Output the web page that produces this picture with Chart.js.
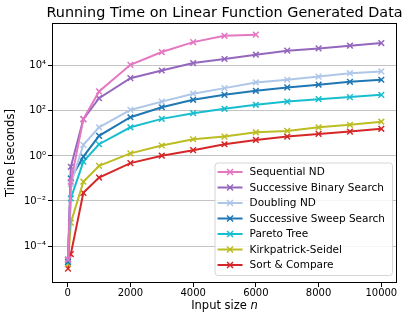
<!DOCTYPE html>
<html>
<head>
<meta charset="utf-8">
<script src="https://cdn.jsdelivr.net/npm/chart.js@4.4.1/dist/chart.umd.min.js"></script>
<style>
  html, body { margin: 0; padding: 0; background: #fff; }
</style>
</head>
<body>
<canvas id="runtimeChart" width="411" height="321"></canvas>
<script>
// input sizes n
var inputSizes = [10, 100, 500, 1000, 2000, 3000, 4000, 5000, 6000, 7000, 8000, 9000, 10000];

// running times in seconds
var sequentialND = [2.5e-5, 0.071, 43, 724, 11000, 40700, 112000, 214000, 240000]; // only up to n=6000
var successiveBinary = [2.5e-5, 0.33, 43, 363, 2820, 6170, 13200, 20000, 30900, 46800, 58900, 77600, 102000];
var doublingND = [2.5e-5, 0.056, 3.1, 18.6, 110, 257, 575, 1020, 1820, 2400, 3310, 4680, 5620];
var successiveSweep = [2.0e-5, 0.1, 0.93, 7.8, 52, 145, 309, 513, 776, 1096, 1445, 1950, 2400];
var paretoTree = [2.0e-5, 0.013, 0.56, 3.3, 18.6, 44, 79, 123, 186, 257, 331, 407, 513];
var kirkpatrickSeidel = [1.6e-5, 1.1e-3, 0.072, 0.36, 1.3, 2.9, 5.5, 7.2, 11.2, 12.9, 18.6, 24, 33];
var sortCompare = [1.0e-5, 4.4e-5, 0.023, 0.11, 0.48, 1.02, 1.8, 3.3, 5.1, 7.2, 9.5, 12, 16];

var seriesNames = ['Sequential ND', 'Successive Binary Search', 'Doubling ND', 'Successive Sweep Search',
                   'Pareto Tree', 'Kirkpatrick-Seidel', 'Sort & Compare'];
var seriesValues = [sequentialND, successiveBinary, doublingND, successiveSweep, paretoTree, kirkpatrickSeidel, sortCompare];
var seriesColors = ['#e377c2', '#9467bd', '#aec7e8', '#1f77b4', '#17becf', '#bcbd22', '#d62728'];

var xTickValues = [0, 2000, 4000, 6000, 8000, 10000];
var yTickValues = [1e-4, 1e-2, 1, 1e2, 1e4];
var yTickLabels = ['10\u207B\u2074', '10\u207B\u00B2', '10\u2070', '10\u00B2', '10\u2074'];

var chartTitle = 'Running Time on Linear Function Generated Data';

Chart.defaults.font.family = 'DejaVu Sans';
Chart.defaults.color = '#000';

var datasets = seriesNames.map(function(name, i) {
    return {
        label: name,
        data: seriesValues[i].map(function(v, j) { return {x: inputSizes[j], y: v}; }),
        borderColor: seriesColors[i],
        backgroundColor: seriesColors[i],
        borderWidth: 2,
        pointStyle: 'crossRot',
        pointRadius: 4,
        pointBorderWidth: 1.5,
        tension: 0,
        fill: false
    };
});

// title (centred over the axes), frame, legend box and x label (with italic n)
var extrasPlugin = {
    id: 'extras',
    afterDraw: function(chart) {
        var ctx = chart.ctx, a = chart.chartArea;
        ctx.save();

        // title
        ctx.fillStyle = '#000';
        ctx.font = '14.4px "DejaVu Sans"';
        ctx.textAlign = 'center';
        ctx.textBaseline = 'middle';
        ctx.fillText(chartTitle, (a.left + a.right) / 2, 13);

        // full box around the axes
        ctx.strokeStyle = '#000';
        ctx.lineWidth = 1;
        ctx.strokeRect(Math.round(a.left) + 0.5, Math.round(a.top) + 0.5,
                       Math.round(a.right - a.left) - 1, Math.round(a.bottom - a.top) - 1);

        // legend in lower right corner
        ctx.font = '10.5px "DejaVu Sans"';
        var maxW = 0;
        seriesNames.forEach(function(n) { maxW = Math.max(maxW, ctx.measureText(n).width); });
        var rowH = 15.5;
        var lw = maxW + 42, lh = seriesNames.length * rowH + 4;
        var lx = a.right - 5 - lw, ly = a.bottom - 8 - lh;
        ctx.beginPath();
        if (ctx.roundRect) ctx.roundRect(lx + 0.5, ly + 0.5, lw, lh, 3); else ctx.rect(lx + 0.5, ly + 0.5, lw, lh);
        ctx.fillStyle = 'rgba(255,255,255,0.85)';
        ctx.fill();
        ctx.strokeStyle = '#d6d6d6';
        ctx.stroke();
        ctx.textBaseline = 'middle';
        ctx.textAlign = 'left';
        seriesNames.forEach(function(n, i) {
            var cy = ly + 9.5 + i * rowH;
            ctx.strokeStyle = seriesColors[i];
            ctx.lineWidth = 2;
            ctx.beginPath();
            ctx.moveTo(lx + 3, cy); ctx.lineTo(lx + 28, cy);
            ctx.stroke();
            ctx.lineWidth = 1.5;
            ctx.beginPath();
            ctx.moveTo(lx + 12.5, cy - 3); ctx.lineTo(lx + 18.5, cy + 3);
            ctx.moveTo(lx + 12.5, cy + 3); ctx.lineTo(lx + 18.5, cy - 3);
            ctx.stroke();
            ctx.fillStyle = '#000';
            ctx.fillText(n, lx + 35, cy + 0.5);
        });

        // x axis label
        var f1 = '11.5px "DejaVu Sans"', f2 = 'italic 11.5px "DejaVu Sans"';
        ctx.font = f1;
        var w1 = ctx.measureText('Input size ').width;
        ctx.font = f2;
        var w2 = ctx.measureText('n').width;
        var sx = (a.left + a.right) / 2 - (w1 + w2) / 2, sy = 306;
        ctx.fillStyle = '#000';
        ctx.font = f1;
        ctx.fillText('Input size ', sx, sy);
        ctx.font = f2;
        ctx.fillText('n', sx + w1, sy);
        ctx.restore();
    }
};

var ctx = document.getElementById('runtimeChart');
var runtimeChart = new Chart(ctx, {
    type: 'line',
    data: { datasets: datasets },
    options: {
        responsive: false,
        animation: false,
        devicePixelRatio: 1,
        layout: { padding: { left: 0, right: 14, top: 23, bottom: 0 } },
        plugins: {
            legend: { display: false },
            tooltip: { enabled: false },
            title: { display: false }
        },
        scales: {
            x: {
                type: 'linear',
                min: -500,
                max: 10500,
                afterFit: function(scale) { scale.height = 38; },
                afterBuildTicks: function(scale) {
                    scale.ticks = xTickValues.map(function(v) { return {value: v}; });
                },
                ticks: {
                    font: { size: 10 },
                    color: '#000',
                    padding: 0,
                    maxRotation: 0,
                    callback: function(v) { return String(v); }
                },
                grid: { drawOnChartArea: false, drawTicks: true, tickLength: 4, tickColor: '#000' },
                border: { display: false }
            },
            y: {
                type: 'logarithmic',
                min: 2.3e-6,
                max: 7.9e5,
                afterFit: function(scale) { scale.width = 52; },
                afterBuildTicks: function(scale) {
                    scale.ticks = yTickValues.map(function(v) { return {value: v}; });
                },
                ticks: {
                    font: { size: 10 },
                    color: '#000',
                    padding: 2,
                    callback: function(v) {
                        var k = yTickValues.indexOf(v);
                        return k >= 0 ? yTickLabels[k] : '';
                    }
                },
                grid: { color: '#c4c4c4', lineWidth: 1, tickLength: 4, tickColor: '#000' },
                border: { display: false },
                title: {
                    display: true,
                    text: 'Time [seconds]',
                    font: { size: 11.5 },
                    color: '#000',
                    padding: { top: 4, bottom: 0 }
                }
            }
        }
    },
    plugins: [extrasPlugin]
});
</script>
</body>
</html>
